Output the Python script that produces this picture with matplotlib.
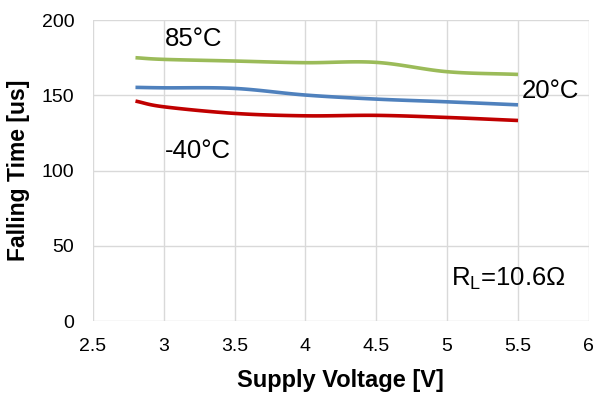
import numpy as np
import matplotlib
matplotlib.use("Agg")
import matplotlib.pyplot as plt

plt.rcParams['font.family'] = ['Liberation Sans', 'DejaVu Sans']

voltage = [2.8, 3.0, 3.5, 4.0, 4.5, 5.0, 5.5]
t_85 = [175.0, 173.9, 172.8, 171.7, 171.9, 165.7, 163.9]
t_20 = [155.3, 155.0, 154.6, 150.2, 147.5, 145.7, 143.7]
t_m40 = [146.2, 142.4, 138.0, 136.4, 136.7, 135.3, 133.3]

labels = ["85°C", "20°C", "-40°C"]
colors = ["#9BBB59", "#4F81BD", "#C00000"]


def smooth(x, y, n=20):
    # Catmull-Rom style smoothing for drawing (like Excel smoothed lines)
    x = np.asarray(x, float); y = np.asarray(y, float)
    px = np.concatenate([[2 * x[0] - x[1]], x, [2 * x[-1] - x[-2]]])
    py = np.concatenate([[2 * y[0] - y[1]], y, [2 * y[-1] - y[-2]]])
    xs, ys = [], []
    for i in range(1, len(px) - 2):
        t = np.linspace(0, 1, n, endpoint=(i == len(px) - 3))
        for arr, out in ((px, xs), (py, ys)):
            p0, p1, p2, p3 = arr[i - 1], arr[i], arr[i + 1], arr[i + 2]
            out.extend(0.5 * ((2 * p1) + (-p0 + p2) * t +
                              (2 * p0 - 5 * p1 + 4 * p2 - p3) * t ** 2 +
                              (-p0 + 3 * p1 - 3 * p2 + p3) * t ** 3))
    return np.array(xs), np.array(ys)


fig = plt.figure(figsize=(5.96, 3.94), dpi=100)
ax = fig.add_axes([0.156, 0.185, 0.832, 0.764])

for y, c in zip([t_85, t_20, t_m40], colors):
    sx, sy = smooth(voltage, y)
    ax.plot(sx, sy, color=c, lw=2.6, solid_capstyle='butt')

ax.set_xlim(2.5, 6)
ax.set_ylim(0, 200)
ax.set_xticks(np.arange(2.5, 6.01, 0.5))
ax.set_xticklabels(["2.5", "3", "3.5", "4", "4.5", "5", "5.5", "6"])
ax.set_yticks([0, 50, 100, 150, 200])
ax.grid(True, color="#D9D9D9", lw=1)
ax.set_axisbelow(True)
for s in ax.spines.values():
    s.set_visible(False)
ax.tick_params(length=0, labelsize=14, colors="#000000")
ax.tick_params(axis='x', pad=12)
ax.tick_params(axis='y', pad=13.5)

ax.set_xlabel("Supply Voltage [V]", fontsize=17, fontweight='bold', labelpad=10)
ax.set_ylabel("Falling Time [us]", fontsize=16.5, fontweight='bold', labelpad=8)

ax.text(3.01, 187.4, labels[0], fontsize=18.5, ha='left', va='center')
ax.text(5.526, 153, labels[1], fontsize=18.5, ha='left', va='center')
ax.text(3.01, 113, labels[2], fontsize=18.5, ha='left', va='center')
ax.text(5.43, 28, "R$_\\mathregular{L}$=10.6Ω", fontsize=18.5, ha='center', va='center')

fig.savefig("out.png", dpi=100)
